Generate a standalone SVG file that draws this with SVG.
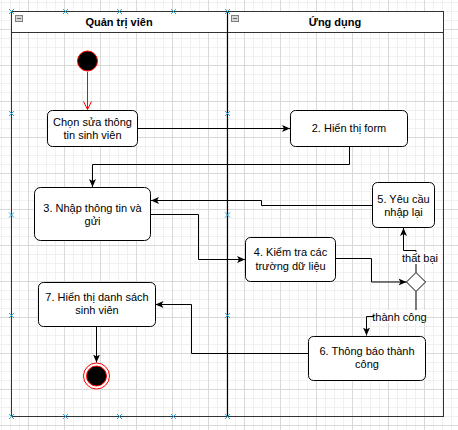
<svg xmlns="http://www.w3.org/2000/svg" width="458" height="430" viewBox="0 0 458 430">
<defs>
<pattern id="grid" x="28" y="29" width="36" height="36" patternUnits="userSpaceOnUse">
<path d="M9.5 0V36M18.5 0V36M27.5 0V36M0 9.5H36M0 18.5H36M0 27.5H36" stroke="#f0f0f0" stroke-width="1" fill="none"/>
<path d="M0.5 0V36M0 0.5H36" stroke="#d9d9d9" stroke-width="1" fill="none"/>
</pattern>
<marker id="arr" markerWidth="8" markerHeight="8" viewBox="0 0 8 8" refX="8" refY="4" orient="auto" markerUnits="userSpaceOnUse">
<path d="M0,0.5 L8,4 L0,7.5 L2,4 Z" fill="#000"/>
</marker>
<marker id="open" markerWidth="10" markerHeight="10" viewBox="0 0 10 10" refX="9" refY="5" orient="auto" markerUnits="userSpaceOnUse">
<path d="M1,1 L9,5 L1,9" fill="none" stroke="#ff0000" stroke-width="1"/>
</marker>
<g id="xmark"><path d="M-2.5,-2.5 L2.5,2.5 M-2.5,2.5 L2.5,-2.5" stroke="#29a8e0" stroke-width="1"/></g>
</defs>
<style>
.t{font-family:"Liberation Sans",Arial,sans-serif;font-size:11px;fill:#000;text-anchor:middle}
.h{font-family:"Liberation Sans",Arial,sans-serif;font-size:11px;font-weight:bold;fill:#000;text-anchor:middle}
.n{fill:#fff;stroke:#000;stroke-width:1}
.e{fill:none;stroke:#000;stroke-width:1}
.lane{fill:none;stroke:#333;stroke-width:1}
.hdr{fill:#fff;stroke:#333;stroke-width:1}
.ico{fill:#d8d8d8;stroke:#808080;stroke-width:1}
</style>
<rect width="458" height="430" fill="#fff"/>
<rect width="458" height="430" fill="url(#grid)"/>

<g id="lane-admin">
<rect class="hdr" x="11.5" y="11.5" width="216" height="21"/>
<rect class="lane" x="11.5" y="11.5" width="216" height="405"/>
<rect class="ico" x="15.5" y="15.5" width="7" height="6"/>
<path d="M17 18.5H21" stroke="#666" stroke-width="1"/>
<text class="h" x="119" y="26">Quản trị viên</text>
</g>
<g id="lane-app">
<rect class="hdr" x="227.5" y="11.5" width="216" height="21"/>
<rect class="lane" x="227.5" y="11.5" width="216" height="405"/>
<rect class="ico" x="231.5" y="15.5" width="7" height="6"/>
<path d="M233 18.5H237" stroke="#666" stroke-width="1"/>
<text class="h" x="335" y="26">Ứng dụng</text>
</g>
<path d="M227.5 11.5V416.5" stroke="#000" stroke-width="1.2"/>

<g id="connectors">
<path d="M87.5 72V109.5" fill="none" stroke="#ff0000" stroke-width="1" marker-end="url(#open)"/>
<path class="e" d="M137 128.5H290" marker-end="url(#arr)"/>
<path class="e" d="M349.5 147V164.5H92.5V187" marker-end="url(#arr)"/>
<path class="e" d="M372 205.5H261.5V200.5H151" marker-end="url(#arr)"/>
<path class="e" d="M151 214.5H198.5V259.5H245" marker-end="url(#arr)"/>
<path class="e" d="M335 258.5H371.5V282H406.5" marker-end="url(#arr)"/>
<path class="e" d="M416 272.5V250.5H403.5V228" marker-end="url(#arr)"/>
<path class="e" d="M416 291.5V316.5H366.5V335.5" marker-end="url(#arr)"/>
<path class="e" d="M308 353.5H191.5V304.5H155.5" marker-end="url(#arr)"/>
<path class="e" d="M96.5 327V362.5" marker-end="url(#arr)"/>
<rect x="400" y="252" width="40" height="12" fill="#fff"/>
<text class="t" x="420" y="262">thất bại</text>
<rect x="374" y="310" width="51" height="13" fill="#fff"/>
<text class="t" x="399.5" y="321">thành công</text>
</g>

<g id="start">
<circle cx="87.5" cy="61" r="10" fill="#000" stroke="#ff0000" stroke-width="1"/>
</g>
<g id="n1">
<rect class="n" x="47.5" y="110.5" width="90" height="36" rx="5"/>
<text class="t" x="92.5" y="126">Chọn sửa thông</text>
<text class="t" x="92.5" y="139">tin sinh viên</text>
</g>
<g id="n2">
<rect class="n" x="290.5" y="110.5" width="117" height="36" rx="5"/>
<text class="t" x="349" y="132">2. Hiển thị form</text>
</g>
<g id="n3">
<rect class="n" x="34.5" y="187.5" width="116" height="53" rx="6"/>
<text class="t" x="92.5" y="211.5">3. Nhập thông tin và</text>
<text class="t" x="92.5" y="225">gửi</text>
</g>
<g id="n5">
<rect class="n" x="372.5" y="182.5" width="62" height="45" rx="5"/>
<text class="t" x="403.5" y="203">5. Yêu cầu</text>
<text class="t" x="403.5" y="216">nhập lại</text>
</g>
<g id="n4">
<rect class="n" x="245.5" y="237.5" width="90" height="44" rx="5"/>
<text class="t" x="290.5" y="256">4. Kiểm tra các</text>
<text class="t" x="290.5" y="270">trường dữ liệu</text>
</g>
<g id="decision">
<polygon class="n" points="416,272.5 425.5,282 416,291.5 406.5,282"/>
</g>
<g id="n6">
<rect class="n" x="308.5" y="336.5" width="117" height="44" rx="5"/>
<text class="t" x="367" y="355">6. Thông báo thành</text>
<text class="t" x="367" y="368">công</text>
</g>
<g id="n7">
<rect class="n" x="38.5" y="282.5" width="117" height="44" rx="5"/>
<text class="t" x="97" y="301">7. Hiển thị danh sách</text>
<text class="t" x="97" y="314">sinh viên</text>
</g>
<g id="end">
<circle cx="96.5" cy="376" r="13" fill="#fff" stroke="#ff0000" stroke-width="1"/>
<circle cx="96.5" cy="376" r="10" fill="#000" stroke="#ff0000" stroke-width="1"/>
</g>

<g id="handles">
<use href="#xmark" x="11.5" y="11.5"/>
<use href="#xmark" x="65.5" y="11.5"/>
<use href="#xmark" x="119.5" y="11.5"/>
<use href="#xmark" x="173.5" y="11.5"/>
<use href="#xmark" x="227.5" y="11.5"/>
<use href="#xmark" x="11.5" y="113.5"/>
<use href="#xmark" x="227.5" y="113.5"/>
<use href="#xmark" x="11.5" y="215"/>
<use href="#xmark" x="227.5" y="215"/>
<use href="#xmark" x="11.5" y="315.5"/>
<use href="#xmark" x="227.5" y="315.5"/>
<use href="#xmark" x="11.5" y="416.5"/>
<use href="#xmark" x="65.5" y="416.5"/>
<use href="#xmark" x="119.5" y="416.5"/>
<use href="#xmark" x="173.5" y="416.5"/>
<use href="#xmark" x="227.5" y="416.5"/>
</g>
</svg>
